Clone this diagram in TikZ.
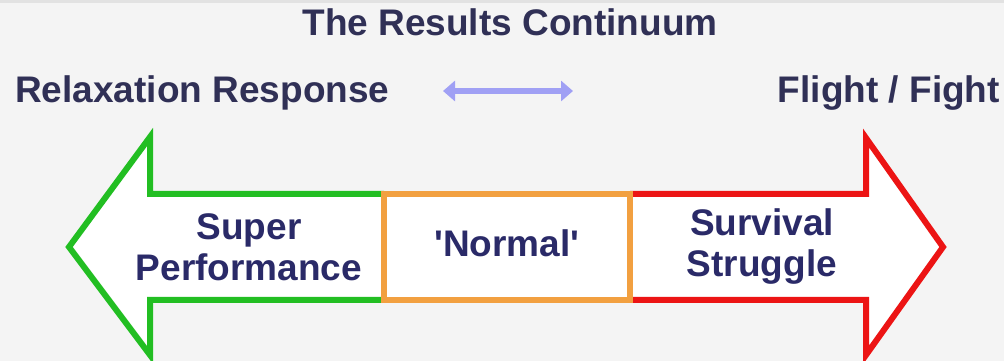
\documentclass[tikz,border=0pt]{standalone}
\usepackage{fontspec}
\setmainfont{Liberation Sans}
\usetikzlibrary{arrows.meta}
\definecolor{bgpaper}{RGB}{244,244,244}
\definecolor{topstrip}{RGB}{226,226,226}
\definecolor{inkhead}{RGB}{48,48,86}
\definecolor{inkbox}{RGB}{42,42,104}
\definecolor{calmgreen}{RGB}{34,190,34}
\definecolor{midorange}{RGB}{242,160,64}
\definecolor{alarmred}{RGB}{236,20,20}
\definecolor{lavender}{RGB}{160,160,244}
\tikzset{
  headlabel/.style={font=\bfseries\fontsize{37}{40}\selectfont, text=inkhead, inner sep=0pt},
  zonelabel/.style={font=\bfseries\fontsize{37}{41}\selectfont, text=inkbox, align=center, inner sep=0pt},
  outline/.style={line width=6pt, line join=miter, fill=white},
}
\begin{document}
\begin{tikzpicture}[x=1pt,y=1pt]
  % canvas
  \fill[bgpaper] (0,0) rectangle (1004,361);
  \fill[topstrip] (0,358) rectangle (1004,361);
  \useasboundingbox (0,0) rectangle (1004,361);

  % headings
  \node[headlabel] (title) at (510,339) {The Results Continuum};
  \node[headlabel, anchor=west] (relax) at (15,268) {Relaxation Response};
  \node[headlabel, anchor=east] (flight) at (1000,268) {Flight / Fight};

  % small two-way arrow between the two poles
  \coordinate (pl) at (443,270);
  \coordinate (pr) at (573,270);
  \draw[lavender, line width=6pt,
        {Triangle[length=12pt,width=20pt]}-{Triangle[length=12pt,width=20pt]}] (pl) -- (pr);

  % left arrow: relaxation side
  \draw[outline, draw=calmgreen]
    (384,167) -- (150,167) -- (150,224) -- (69,114) -- (150,6) -- (150,61) -- (384,61);
  % right arrow: flight / fight side
  \draw[outline, draw=alarmred]
    (630,167) -- (866,167) -- (866,223) -- (943,114) -- (866,6) -- (866,61) -- (630,61);
  % middle zone
  \draw[line width=6pt, draw=midorange, fill=white] (384,167) rectangle (630,61);

  % zone labels
  \node[zonelabel] (super) at (249,114) {Super\\Performance};
  \node[zonelabel] (normal) at (507,118) {\textquotesingle Normal\textquotesingle};
  \node[zonelabel] (survival) at (762,114) {Survival\\Struggle};
\end{tikzpicture}
\end{document}
